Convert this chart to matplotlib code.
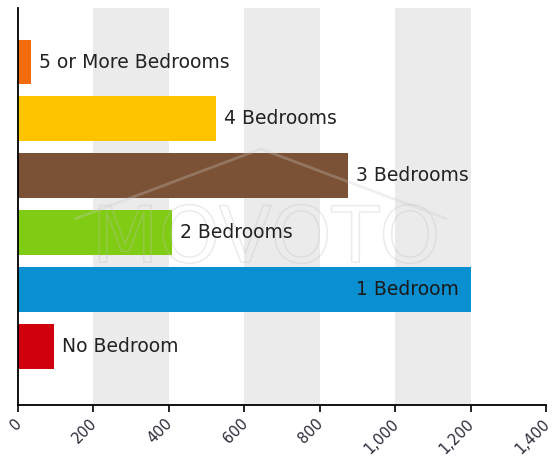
import matplotlib.pyplot as plt
import matplotlib.patheffects as pe
import matplotlib.transforms as mtransforms
from matplotlib.ticker import FuncFormatter

# data, bottom to top
categories = ['No Bedroom', '1 Bedroom', '2 Bedrooms', '3 Bedrooms', '4 Bedrooms', '5 or More Bedrooms']
counts = [95, 1200, 408, 875, 525, 35]
colors = ['#d0000c', '#0a90d0', '#80cc14', '#7b5235', '#ffc400', '#f26c0d']
x_ticks = [0, 200, 400, 600, 800, 1000, 1200, 1400]

fig = plt.figure(figsize=(5.53, 4.62), dpi=100)
ax = fig.add_axes([0.0325, 0.1234, 0.9548, 0.8593])

# alternating grey bands
for i in range(1, len(x_ticks) - 1, 2):
    ax.axvspan(x_ticks[i], x_ticks[i + 1], color='#ebebeb', lw=0, zorder=0)

ypos = list(range(len(categories)))
ax.barh(ypos, counts, height=0.79, color=colors, zorder=2)

# faint watermark
wm = ax.text(0.47, 0.415, 'MOVOTO', transform=ax.transAxes, ha='center', va='center',
             fontsize=56, color=(1, 1, 1, 0), zorder=3)
wm.set_path_effects([pe.withStroke(linewidth=1.1, foreground=(0.75, 0.75, 0.75, 0.3))])
ax.plot([0.11, 0.46, 0.81], [0.47, 0.645, 0.47], transform=ax.transAxes,
        color=(0.8, 0.8, 0.8, 0.3), lw=2, zorder=3)

for y, v, name in zip(ypos, counts, categories):
    if name == '1 Bedroom':
        ax.text(v - 30, y, name, ha='right', va='center', fontsize=13.5, color='#1a1a1a', zorder=4)
    else:
        ax.text(v + 22, y, name, ha='left', va='center', fontsize=13.5, color='#222222', zorder=4)

ax.set_xlim(0, 1400)
ax.set_ylim(-1.03, 5.95)
ax.set_xticks(x_ticks)
ax.xaxis.set_major_formatter(FuncFormatter(lambda v, p: f'{int(v):,}'))
ax.set_yticks([])
ax.tick_params(axis='x', length=5, width=1.2, color='black', labelsize=10.5, labelcolor='#2b2b3a', pad=3)
shift = mtransforms.ScaledTranslation(-4 / 100, 0, fig.dpi_scale_trans)
for lbl in ax.get_xticklabels():
    lbl.set_rotation(45)
    lbl.set_ha('right')
    lbl.set_rotation_mode('anchor')
    lbl.set_transform(lbl.get_transform() + shift)

for s in ['top', 'right']:
    ax.spines[s].set_visible(False)
for s in ['left', 'bottom']:
    ax.spines[s].set_linewidth(1.3)
    ax.spines[s].set_color('black')

fig.savefig('out.png', dpi=100)
